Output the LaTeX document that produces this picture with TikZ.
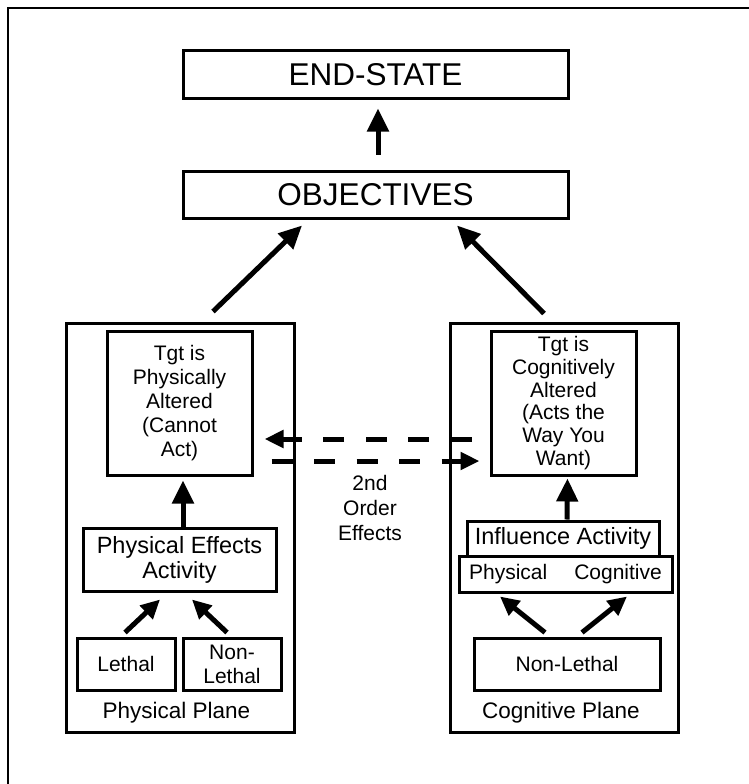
\documentclass[tikz,border=0pt]{standalone}
\usepackage{fontspec}
\setmainfont{Liberation Sans}
\usetikzlibrary{arrows.meta,calc}
\begin{document}
\begin{tikzpicture}[x=1pt,y=-1pt,
  box/.style={draw,line width=3pt,rectangle,inner sep=0pt,align=center},
  bigfont/.style={font=\fontsize{31.5}{36}\selectfont},
  midfont/.style={font=\fontsize{23.5}{25}\selectfont},
  smallfont/.style={font=\fontsize{21}{24}\selectfont},
  arr/.style={line width=5pt,-{Triangle[length=23pt,width=21pt]}},
  smallarr/.style={line width=5pt,-{Triangle[length=19pt,width=18pt]}},
  dasharr/.style={line width=5pt,dash pattern=on 21pt off 21.5pt,-{Triangle[length=19pt,width=17pt]}},
]
\useasboundingbox (0,0) rectangle (749,784);
% outer frame (top and left edges)
\draw[line width=2.7pt] (8,784) -- (8,8) -- (749,8);

% top level
\node[box,bigfont,minimum width=385pt,minimum height=47pt] (endstate) at (375.5,74.5) {END-STATE};
\node[box,bigfont,minimum width=385pt,minimum height=47pt] (objectives) at (375.5,194.5) {OBJECTIVES};

% the two planes
\node[box,minimum width=228pt,minimum height=409pt] (physplane) at (180,527.5) {};
\node[box,minimum width=228pt,minimum height=409pt] (cogplane) at (564,527.5) {};

% physical plane contents
\node[box,smallfont,minimum width=145pt,minimum height=144pt] (tgtphys) at (179.5,403)
  {Tgt is\\Physically\\Altered\\(Cannot\\Act)};
\node[box,midfont,minimum width=193pt,minimum height=63pt] (peact) at (179.5,559.5)
  {Physical Effects\\Activity};
\node[box,smallfont,minimum width=98pt,minimum height=52pt] (lethal) at (126,664) {Lethal};
\node[box,smallfont,minimum width=98pt,minimum height=52pt] (nonlethal) at (232,664) {Non-\\Lethal};
\node[font=\fontsize{22.5}{25}\selectfont,anchor=base] (physlabel) at (176.5,718) {Physical Plane};

% cognitive plane contents
\node[box,font=\fontsize{21}{22.8}\selectfont,minimum width=145pt,minimum height=144pt] (tgtcog) at (563.5,403)
  {Tgt is\\Cognitively\\Altered\\(Acts the\\Way You\\Want)};
\node[box,midfont,minimum width=192pt,minimum height=35pt] (infl) at (563,538.5) {Influence Activity};
\node[box,smallfont,minimum width=213pt,minimum height=36pt] (physcog) at (565.5,574)
  {Physical\hskip27pt Cognitive};
\node[box,smallfont,minimum width=186pt,minimum height=52pt] (nonlethal2) at (567,664) {Non-Lethal};
\node[font=\fontsize{22.5}{25}\selectfont,anchor=base] (coglabel) at (561,718) {Cognitive Plane};

% label between the planes
\node[align=center,font=\fontsize{21}{25}\selectfont] (second) at (370,508) {2nd\\Order\\Effects};

% connectors
\draw[arr,shorten <=15pt,shorten >=9pt] ($(objectives.north)+(2.5,0)$) -- ($(endstate.south)+(2.5,0)$);
\draw[arr] ($(physplane.north)+(33,-10)$) -- ($(objectives.south)+(-73.5,6)$);
\draw[arr] ($(cogplane.north)+(-20,-8)$) -- ($(objectives.south)+(81.5,6)$);

\draw[arr,shorten >=4pt] ($(peact.north)+(3.5,0)$) -- ($(tgtphys.south)+(3.5,0)$);
\draw[arr,shorten >=2pt] ($(infl.north)+(4,0)$) -- ($(tgtcog.south)+(4,0)$);

\draw[smallarr] ($(lethal.north)+(-1,-4)$) -- ($(peact.south)+(-19.5,7)$);
\draw[smallarr] ($(nonlethal.north)+(-5,-4)$) -- ($(peact.south)+(12.5,7)$);
\draw[smallarr] ($(nonlethal2.north)+(-22,-4)$) -- ($(physcog.south)+(-65.5,3)$);
\draw[smallarr] ($(nonlethal2.north)+(15,-4)$) -- ($(physcog.south)+(61.5,3)$);

% second order effects, both directions
\draw[dasharr] ($(tgtcog.west)+(-18,36)$) -- ($(tgtphys.east)+(11,36)$);
\draw[dasharr] ($(tgtphys.east)+(18,58)$) -- ($(tgtcog.west)+(-10,58)$);
\end{tikzpicture}
\end{document}
